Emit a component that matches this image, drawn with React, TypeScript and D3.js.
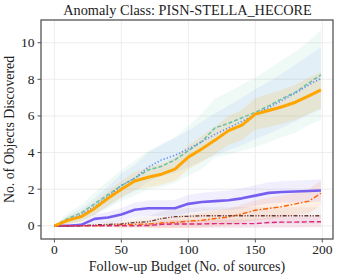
import React from 'react';
import * as d3 from 'd3';

// follow-up budget sample points
const budget = [0, 10, 20, 30, 40, 50, 60, 70, 80, 90, 100, 110, 120, 130, 140, 150, 160, 170, 180, 190, 199];

const greenMean = [0, 0.4, 0.7, 1.2, 1.7, 2.2, 2.6, 3.05, 3.25, 3.6, 4.1, 4.6, 5.35, 5.6, 5.9, 6.2, 6.55, 6.95, 7.3, 7.8, 8.24];
const greenSd = [0, 0.3, 0.45, 0.6, 0.75, 0.85, 0.95, 1.05, 1.15, 1.25, 1.35, 1.5, 1.6, 1.7, 1.8, 1.9, 2.0, 2.1, 2.2, 2.3, 2.45];

const blueMean = [0, 0.3, 0.6, 1.05, 1.6, 2.2, 2.6, 3.2, 3.6, 3.85, 4.2, 4.6, 5.0, 5.35, 5.7, 6.1, 6.45, 6.85, 7.25, 7.7, 8.05];
const blueSd = [0, 0.25, 0.35, 0.45, 0.55, 0.65, 0.72, 0.8, 0.88, 0.95, 1.0, 1.08, 1.15, 1.22, 1.3, 1.36, 1.42, 1.48, 1.55, 1.62, 1.7];

const orangeMean = [0, 0.3, 0.5, 0.95, 1.5, 2.0, 2.45, 2.65, 2.82, 3.1, 3.75, 4.2, 4.68, 5.2, 5.5, 6.1, 6.3, 6.5, 6.75, 7.1, 7.42];
const orangeSd = [0, 0.2, 0.3, 0.35, 0.4, 0.45, 0.5, 0.55, 0.58, 0.62, 0.66, 0.7, 0.74, 0.78, 0.82, 0.86, 0.9, 0.93, 0.96, 0.98, 1.0];

const purpleMean = [0, 0, 0.05, 0.38, 0.45, 0.62, 0.88, 0.96, 0.96, 0.96, 1.2, 1.3, 1.35, 1.4, 1.5, 1.65, 1.8, 1.85, 1.87, 1.9, 1.93];
const purpleSd = [0, 0, 0.1, 0.25, 0.3, 0.35, 0.4, 0.42, 0.44, 0.45, 0.48, 0.5, 0.52, 0.53, 0.55, 0.56, 0.58, 0.58, 0.6, 0.6, 0.6];

const redMean = [0, 0, 0, 0, 0.02, 0.05, 0.08, 0.1, 0.15, 0.18, 0.25, 0.3, 0.4, 0.48, 0.65, 0.85, 0.95, 1.05, 1.2, 1.35, 1.78];
const redSd = [0, 0, 0, 0, 0.08, 0.15, 0.2, 0.22, 0.28, 0.3, 0.35, 0.38, 0.42, 0.45, 0.5, 0.55, 0.58, 0.6, 0.62, 0.65, 0.7];

const brownMean = [0, 0, 0, 0.05, 0.08, 0.1, 0.18, 0.22, 0.4, 0.5, 0.52, 0.55, 0.55, 0.55, 0.55, 0.55, 0.55, 0.55, 0.55, 0.55, 0.55];
const brownSd = [0, 0, 0, 0.1, 0.15, 0.2, 0.25, 0.3, 0.38, 0.42, 0.45, 0.46, 0.46, 0.46, 0.46, 0.46, 0.46, 0.46, 0.46, 0.46, 0.46];

const pinkMean = [0, 0, 0, 0, 0, 0, 0, 0.02, 0.08, 0.1, 0.1, 0.1, 0.12, 0.12, 0.12, 0.12, 0.18, 0.2, 0.2, 0.22, 0.22];
const pinkSd = [0, 0, 0, 0, 0, 0, 0, 0.1, 0.2, 0.22, 0.22, 0.22, 0.24, 0.24, 0.24, 0.24, 0.28, 0.3, 0.3, 0.3, 0.3];

const xTicks = [0, 50, 100, 150, 200];
const yTicks = [0, 2, 4, 6, 8, 10];

const series = [
  { mean: greenMean, sd: greenSd, color: '#66c2a5', width: 1.5, dash: '4,2', bandOpacity: 0.1 },
  { mean: blueMean, sd: blueSd, color: '#648fff', width: 1.6, dash: '1.3,2', bandOpacity: 0.09 },
  { mean: purpleMean, sd: purpleSd, color: '#785ef0', width: 2.6, dash: null, bandOpacity: 0.1 },
  { mean: redMean, sd: redSd, color: '#fe6100', width: 1.4, dash: '5,2,1.5,2', bandOpacity: 0.1 },
  { mean: brownMean, sd: brownSd, color: '#6e3b3b', width: 1.3, dash: '4,1.5,1.2,1.5,1.2,1.5', bandOpacity: 0.06 },
  { mean: pinkMean, sd: pinkSd, color: '#dc267f', width: 1.4, dash: '5,2.5', bandOpacity: 0.1 },
  { mean: orangeMean, sd: orangeSd, color: '#ffa500', width: 3, dash: null, bandOpacity: 0.14 },
];

const W = 339;
const H = 279;
const left = 41;
const right = 333;
const top = 20;
const bottom = 239;
const font = '"Liberation Serif", "DejaVu Serif", serif';

const App: React.FC = () => {
  const x = d3.scaleLinear().domain([-10, 208]).range([left, right]);
  const y = d3.scaleLinear().domain([-0.72, 11.24]).range([bottom, top]);

  const area = (s: typeof series[0]) =>
    d3
      .area<number>()
      .x((_, i) => x(budget[i]))
      .y0((d, i) => y(d - s.sd[i]))
      .y1((d, i) => y(d + s.sd[i]))(s.mean) || '';

  const line = d3
    .line<number>()
    .x((_, i) => x(budget[i]))
    .y((d) => y(d));

  return (
    <svg width={W} height={H} style={{ position: 'absolute', left: 0, top: 0, background: '#fff' }}>
      <defs>
        <clipPath id="plot-clip">
          <rect x={left} y={top} width={right - left} height={bottom - top} />
        </clipPath>
      </defs>

      {/* grid */}
      {xTicks.map((t) => (
        <line key={'gx' + t} x1={x(t)} x2={x(t)} y1={top} y2={bottom} stroke="#e8e8e8" strokeWidth={0.8} />
      ))}
      {yTicks.map((t) => (
        <line key={'gy' + t} x1={left} x2={right} y1={y(t)} y2={y(t)} stroke="#e8e8e8" strokeWidth={0.8} />
      ))}

      <g clipPath="url(#plot-clip)">
        {series.map((s, i) => (
          <path key={'b' + i} d={area(s)} fill={s.color} fillOpacity={s.bandOpacity} stroke="none" />
        ))}
        {series.map((s, i) => (
          <path
            key={'l' + i}
            d={line(s.mean) || ''}
            fill="none"
            stroke={s.color}
            strokeWidth={s.width}
            strokeDasharray={s.dash || undefined}
            strokeLinejoin="round"
          />
        ))}
      </g>

      {/* frame */}
      <rect x={left} y={top} width={right - left} height={bottom - top} fill="none" stroke="#555" strokeWidth={1.3} />

      {/* ticks */}
      {xTicks.map((t) => (
        <g key={'tx' + t}>
          <line x1={x(t)} x2={x(t)} y1={bottom} y2={bottom + 3.5} stroke="#555" strokeWidth={1} />
          <text x={x(t)} y={bottom + 15} textAnchor="middle" fontFamily={font} fontSize={13.5} fill="#222">
            {t}
          </text>
        </g>
      ))}
      {yTicks.map((t) => (
        <g key={'ty' + t}>
          <line x1={left - 3.5} x2={left} y1={y(t)} y2={y(t)} stroke="#555" strokeWidth={1} />
          <text x={left - 6.5} y={y(t) + 4.5} textAnchor="end" fontFamily={font} fontSize={13.5} fill="#222">
            {t}
          </text>
        </g>
      ))}

      <text x={(left + right) / 2 + 0.5} y={15} textAnchor="middle" fontFamily={font} fontSize={14.3} fill="#222">
        Anomaly Class: PISN-STELLA_HECORE
      </text>
      <text x={(left + right) / 2} y={271} textAnchor="middle" fontFamily={font} fontSize={14} fill="#222">
        Follow-up Budget (No. of sources)
      </text>
      <text
        transform={`translate(13.5, ${(top + bottom) / 2}) rotate(-90)`}
        textAnchor="middle"
        fontFamily={font}
        fontSize={13.8}
        fill="#222"
      >
        No. of Objects Discovered
      </text>
    </svg>
  );
};

export default App;
